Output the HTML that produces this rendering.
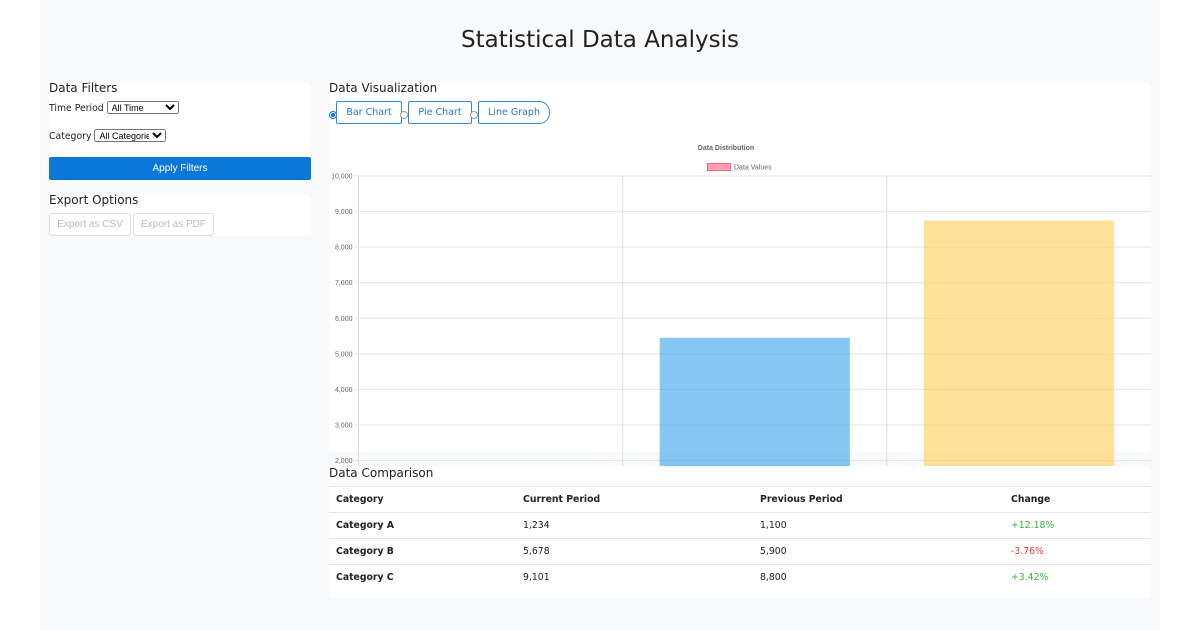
<!DOCTYPE html>
<html><head><meta charset="utf-8"><style>
body{margin:0;width:1200px;height:630px;background:#fff;font-family:"DejaVu Sans","Liberation Sans",sans-serif;position:relative;overflow:hidden;color:#222}
.abs{position:absolute}
#cont{left:40px;top:0;width:1120px;height:630px;background:#f8f9fa}
.card{background:#fff;border-radius:6px}
h1{margin:0;font-weight:normal;font-size:23px;color:#222;position:absolute;left:40px;width:1120px;text-align:center;top:27px}
.h2{font-size:12px;color:#222}
.lbl{font-size:9.3px}
select{font-size:9px;height:13px;padding:0;font-family:"Liberation Sans",sans-serif}
.btn{border:1px solid #2a8be0;background:#fff;color:#1f7ad6;font-size:9.5px;height:21px;line-height:21px;text-align:center;border-radius:2px}
.exp{border:1px solid #ddd;color:#bbb;font-size:10px;height:21px;line-height:21px;text-align:center;border-radius:3px;font-family:"Liberation Sans",sans-serif}
.radio{width:6px;height:6px;border-radius:50%;border:1px solid #999;background:#fff}
table{border-collapse:collapse;font-size:9.3px}
td,th{text-align:left;padding:0 0 0 7px;height:25px;border-top:1px solid #e6e6e6}
th{font-weight:bold}
</style></head><body>
<div class="abs" id="cont"></div>
<h1>Statistical Data Analysis</h1>

<div class="abs card" style="left:49px;top:82px;width:262px;height:100px"></div>
<div class="abs h2" style="left:49px;top:81px">Data Filters</div>
<div class="abs lbl" style="left:49px;top:101px">Time Period <select style="width:72px"><option>All Time</option></select></div>
<div class="abs lbl" style="left:49px;top:129px">Category <select style="width:72px"><option>All Categories</option></select></div>
<div class="abs" style="left:49px;top:157px;width:262px;height:23px;background:#0a78d8;color:#fff;font-size:10px;line-height:23px;text-align:center;border-radius:2px;font-family:'Liberation Sans',sans-serif">Apply Filters</div>

<div class="abs card" style="left:49px;top:194px;width:262px;height:42px"></div>
<div class="abs h2" style="left:49px;top:193px">Export Options</div>
<div class="abs exp" style="left:49px;top:213px;width:80px">Export as CSV</div>
<div class="abs exp" style="left:133px;top:213px;width:79px">Export as PDF</div>

<div class="abs card" style="left:329px;top:82px;width:822px;height:370px"></div>
<div class="abs h2" style="left:329px;top:81px">Data Visualization</div>
<div class="abs radio" style="left:329px;top:111px;border-color:#1a73e8;background:radial-gradient(#1a73e8 45%,#fff 55%)"></div>
<div class="abs btn" style="left:336px;top:101px;width:64px">Bar Chart</div>
<div class="abs radio" style="left:400px;top:111px"></div>
<div class="abs btn" style="left:408px;top:101px;width:62px">Pie Chart</div>
<div class="abs radio" style="left:470px;top:111px"></div>
<div class="abs btn" style="left:478px;top:101px;width:70px;border-radius:2px 11px 11px 2px">Line Graph</div>

<svg class="abs" id="chart" style="left:329px;top:140px" width="822" height="326"></svg>

<div class="abs card" style="left:329px;top:466px;width:822px;height:133px"></div>
<div class="abs h2" style="left:329px;top:466px">Data Comparison</div>
<table class="abs" style="left:329px;top:486px;width:822px">
<tr><th style="width:180px">Category</th><th style="width:230px">Current Period</th><th style="width:244px">Previous Period</th><th>Change</th></tr>
<tr><th>Category A</th><td>1,234</td><td>1,100</td><td style="color:#3cb043">+12.18%</td></tr>
<tr><th>Category B</th><td>5,678</td><td>5,900</td><td style="color:#e53935">-3.76%</td></tr>
<tr><th>Category C</th><td>9,101</td><td>8,800</td><td style="color:#3cb043">+3.42%</td></tr>
</table>

<script>
const categories = ["Category A","Category B","Category C"];
const values = [1234, 5450, 8750];
const tickValues = [2000,3000,4000,5000,6000,7000,8000,9000,10000];
const barColors = ["rgba(255,99,132,0.6)","rgba(54,162,235,0.6)","rgba(255,206,86,0.6)"];
const NS="http://www.w3.org/2000/svg";
const svg=document.getElementById('chart');
const X0=29.5, X1=822, Y0=36, Y1=320.5, vmin=2000, vmax=10000;
function y(v){return Y1-(v-vmin)/(vmax-vmin)*(Y1-Y0);}
const cw=(X1-X0)/categories.length;
function mk(t,a){const e=document.createElementNS(NS,t);for(const k in a)e.setAttribute(k,a[k]);svg.appendChild(e);return e;}
let t=mk('text',{x:397,y:10,'font-size':7,'font-weight':'bold','fill':'#666','text-anchor':'middle','font-family':'Liberation Sans,sans-serif'});t.textContent='Data Distribution';


let lg=mk('rect',{x:378.5,y:23.5,width:23,height:7,fill:'rgba(255,99,132,0.6)',stroke:'#ff6384'});


t=mk('text',{x:405,y:29.5,'font-size':7,'fill':'#666','font-family':'Liberation Sans,sans-serif'});t.textContent='Data Values';


tickValues.forEach(v=>{
  const l=mk('line',{x1:X0-4,x2:X1,y1:y(v),y2:y(v),stroke:'#e5e5e5'});
  
  
  const tx=mk('text',{x:X0-6,y:y(v)+2.5,'font-size':7,'fill':'#666','text-anchor':'end','font-family':'Liberation Sans,sans-serif'});
  tx.textContent=v.toLocaleString('en-US');
  
  
});
for(let i=0;i<=categories.length-1;i++){
  const l=mk('line',{x1:X0+i*cw,x2:X0+i*cw,y1:Y0,y2:326,stroke:'#ddd'});
  
  
}
values.forEach((v,i)=>{
  const bw=cw*0.72, bx=X0+i*cw+(cw-bw)/2;
  const top=Math.max(y(v),Y0);
  if(v<=vmin) return;
  const r=mk('rect',{x:bx,y:top,width:bw,height:330-top,fill:barColors[i]});
  
  
});
</script>
</body></html>
